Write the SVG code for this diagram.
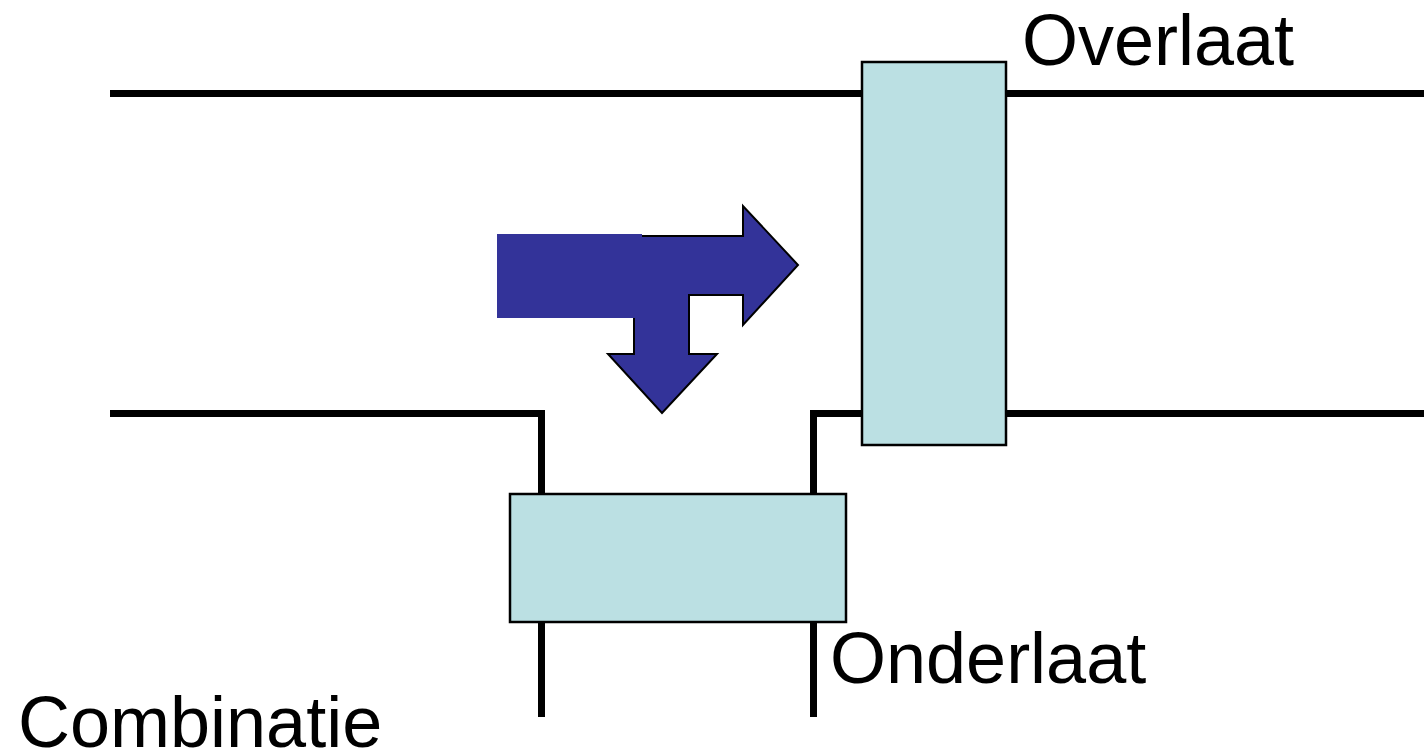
<svg xmlns="http://www.w3.org/2000/svg" width="1424" height="754" viewBox="0 0 1424 754">
  <style>
    .wall { fill: none; stroke: #000; stroke-width: 7; stroke-linecap: butt; stroke-linejoin: miter; }
    .gate { fill: #BBE0E3; stroke: #000; stroke-width: 2.5; }
    .flow { fill: #333399; }
    .label { font-family: "Liberation Sans", Arial, sans-serif; font-size: 72px; fill: #000; }
  </style>

  <rect width="1424" height="754" fill="#fff"/>

  <!-- channel walls -->
  <g id="connectors">
    <line class="wall" x1="110" y1="93.5" x2="1424" y2="93.5"/>
    <polyline class="wall" points="110,413.5 541.5,413.5 541.5,717"/>
    <polyline class="wall" points="813.5,717 813.5,413.5 1424,413.5"/>
  </g>

  <!-- flow arrow: straight on and downward -->
  <g id="flow-arrow">
    <path class="flow" stroke="#000" stroke-width="2" stroke-linejoin="miter"
          d="M600 236 H743 V206 L798 265 L743 325 V295 H689 V354 H717 L662 413 L608 354 H634 V300 Z"/>
    <rect class="flow" x="497" y="234" width="145" height="84"/>
  </g>

  <!-- overflow gate -->
  <g id="overlaat">
    <rect class="gate" x="862" y="62" width="144" height="383"/>
    <text class="label" x="1022" y="65">Overlaat</text>
  </g>

  <!-- underflow gate -->
  <g id="onderlaat">
    <rect class="gate" x="510" y="494" width="336" height="128"/>
    <text class="label" x="830" y="683">Onderlaat</text>
  </g>

  <g id="title">
    <text class="label" x="18" y="747">Combinatie</text>
  </g>
</svg>
